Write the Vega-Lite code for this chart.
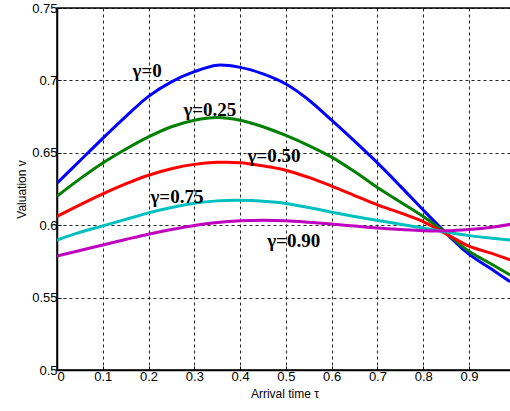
{
  "$schema": "https://vega.github.io/schema/vega-lite/v6.json",
  "width": 455,
  "height": 362,
  "autosize": {"type": "none"},
  "padding": {"left": 57, "top": 8, "right": 0, "bottom": 41},
  "background": "white",
  "config": {
    "view": {"stroke": "black", "strokeWidth": 1.5},
    "axis": {
      "domain": true,
      "domainColor": "black",
      "domainWidth": 1.5,
      "grid": true,
      "gridColor": "black",
      "gridDash": [3, 3],
      "gridOpacity": 0.85,
      "gridWidth": 1,
      "ticks": true,
      "tickColor": "black",
      "tickSize": -4,
      "labelFont": "Liberation Sans",
      "labelFontSize": 13,
      "labelColor": "black",
      "titleFont": "Liberation Sans",
      "titleFontSize": 12,
      "titleFontWeight": "normal",
      "titleColor": "black"
    }
  },
  "datasets": {
    "curves": [
      {"tau": 0, "v": 0.629, "g": "γ=0"}, {"tau": 0.05, "v": 0.6445, "g": "γ=0"}, {"tau": 0.1, "v": 0.66, "g": "γ=0"}, {"tau": 0.15, "v": 0.675, "g": "γ=0"}, {"tau": 0.2, "v": 0.689, "g": "γ=0"}, {"tau": 0.25, "v": 0.699, "g": "γ=0"}, {"tau": 0.3, "v": 0.706, "g": "γ=0"}, {"tau": 0.35, "v": 0.7105, "g": "γ=0"}, {"tau": 0.4, "v": 0.709, "g": "γ=0"}, {"tau": 0.45, "v": 0.7045, "g": "γ=0"}, {"tau": 0.5, "v": 0.6975, "g": "γ=0"}, {"tau": 0.55, "v": 0.6865, "g": "γ=0"}, {"tau": 0.6, "v": 0.6725, "g": "γ=0"}, {"tau": 0.65, "v": 0.658, "g": "γ=0"}, {"tau": 0.7, "v": 0.643, "g": "γ=0"}, {"tau": 0.75, "v": 0.627, "g": "γ=0"}, {"tau": 0.8, "v": 0.6105, "g": "γ=0"}, {"tau": 0.85, "v": 0.5945, "g": "γ=0"}, {"tau": 0.9, "v": 0.58, "g": "γ=0"}, {"tau": 0.95, "v": 0.5695, "g": "γ=0"}, {"tau": 0.99, "v": 0.561, "g": "γ=0"},
      {"tau": 0, "v": 0.62, "g": "γ=0.25"}, {"tau": 0.05, "v": 0.632, "g": "γ=0.25"}, {"tau": 0.1, "v": 0.643, "g": "γ=0.25"}, {"tau": 0.15, "v": 0.6525, "g": "γ=0.25"}, {"tau": 0.2, "v": 0.661, "g": "γ=0.25"}, {"tau": 0.25, "v": 0.668, "g": "γ=0.25"}, {"tau": 0.3, "v": 0.6725, "g": "γ=0.25"}, {"tau": 0.35, "v": 0.6743, "g": "γ=0.25"}, {"tau": 0.4, "v": 0.6725, "g": "γ=0.25"}, {"tau": 0.45, "v": 0.668, "g": "γ=0.25"}, {"tau": 0.5, "v": 0.662, "g": "γ=0.25"}, {"tau": 0.55, "v": 0.655, "g": "γ=0.25"}, {"tau": 0.6, "v": 0.647, "g": "γ=0.25"}, {"tau": 0.65, "v": 0.637, "g": "γ=0.25"}, {"tau": 0.7, "v": 0.626, "g": "γ=0.25"}, {"tau": 0.75, "v": 0.616, "g": "γ=0.25"}, {"tau": 0.8, "v": 0.606, "g": "γ=0.25"}, {"tau": 0.85, "v": 0.5945, "g": "γ=0.25"}, {"tau": 0.9, "v": 0.582, "g": "γ=0.25"}, {"tau": 0.95, "v": 0.573, "g": "γ=0.25"}, {"tau": 0.99, "v": 0.5656, "g": "γ=0.25"},
      {"tau": 0, "v": 0.606, "g": "γ=0.50"}, {"tau": 0.05, "v": 0.614, "g": "γ=0.50"}, {"tau": 0.1, "v": 0.6216, "g": "γ=0.50"}, {"tau": 0.15, "v": 0.6285, "g": "γ=0.50"}, {"tau": 0.2, "v": 0.6345, "g": "γ=0.50"}, {"tau": 0.25, "v": 0.639, "g": "γ=0.50"}, {"tau": 0.3, "v": 0.642, "g": "γ=0.50"}, {"tau": 0.35, "v": 0.6434, "g": "γ=0.50"}, {"tau": 0.4, "v": 0.6432, "g": "γ=0.50"}, {"tau": 0.45, "v": 0.641, "g": "γ=0.50"}, {"tau": 0.5, "v": 0.638, "g": "γ=0.50"}, {"tau": 0.55, "v": 0.633, "g": "γ=0.50"}, {"tau": 0.6, "v": 0.627, "g": "γ=0.50"}, {"tau": 0.65, "v": 0.6205, "g": "γ=0.50"}, {"tau": 0.7, "v": 0.614, "g": "γ=0.50"}, {"tau": 0.75, "v": 0.6085, "g": "γ=0.50"}, {"tau": 0.8, "v": 0.6025, "g": "γ=0.50"}, {"tau": 0.85, "v": 0.594, "g": "γ=0.50"}, {"tau": 0.9, "v": 0.5855, "g": "γ=0.50"}, {"tau": 0.95, "v": 0.5805, "g": "γ=0.50"}, {"tau": 0.99, "v": 0.576, "g": "γ=0.50"},
      {"tau": 0, "v": 0.5898, "g": "γ=0.75"}, {"tau": 0.05, "v": 0.595, "g": "γ=0.75"}, {"tau": 0.1, "v": 0.5995, "g": "γ=0.75"}, {"tau": 0.15, "v": 0.604, "g": "γ=0.75"}, {"tau": 0.2, "v": 0.6085, "g": "γ=0.75"}, {"tau": 0.25, "v": 0.6122, "g": "γ=0.75"}, {"tau": 0.3, "v": 0.6152, "g": "γ=0.75"}, {"tau": 0.35, "v": 0.6168, "g": "γ=0.75"}, {"tau": 0.4, "v": 0.6172, "g": "γ=0.75"}, {"tau": 0.45, "v": 0.6165, "g": "γ=0.75"}, {"tau": 0.5, "v": 0.615, "g": "γ=0.75"}, {"tau": 0.55, "v": 0.6122, "g": "γ=0.75"}, {"tau": 0.6, "v": 0.609, "g": "γ=0.75"}, {"tau": 0.65, "v": 0.606, "g": "γ=0.75"}, {"tau": 0.7, "v": 0.6033, "g": "γ=0.75"}, {"tau": 0.75, "v": 0.6007, "g": "γ=0.75"}, {"tau": 0.8, "v": 0.598, "g": "γ=0.75"}, {"tau": 0.85, "v": 0.5953, "g": "γ=0.75"}, {"tau": 0.9, "v": 0.5928, "g": "γ=0.75"}, {"tau": 0.95, "v": 0.591, "g": "γ=0.75"}, {"tau": 0.99, "v": 0.5898, "g": "γ=0.75"},
      {"tau": 0, "v": 0.5787, "g": "γ=0.90"}, {"tau": 0.05, "v": 0.5825, "g": "γ=0.90"}, {"tau": 0.1, "v": 0.5863, "g": "γ=0.90"}, {"tau": 0.15, "v": 0.5901, "g": "γ=0.90"}, {"tau": 0.2, "v": 0.5938, "g": "γ=0.90"}, {"tau": 0.25, "v": 0.597, "g": "γ=0.90"}, {"tau": 0.3, "v": 0.5998, "g": "γ=0.90"}, {"tau": 0.35, "v": 0.6018, "g": "γ=0.90"}, {"tau": 0.4, "v": 0.603, "g": "γ=0.90"}, {"tau": 0.45, "v": 0.6034, "g": "γ=0.90"}, {"tau": 0.5, "v": 0.603, "g": "γ=0.90"}, {"tau": 0.55, "v": 0.602, "g": "γ=0.90"}, {"tau": 0.6, "v": 0.6008, "g": "γ=0.90"}, {"tau": 0.65, "v": 0.5994, "g": "γ=0.90"}, {"tau": 0.7, "v": 0.598, "g": "γ=0.90"}, {"tau": 0.75, "v": 0.597, "g": "γ=0.90"}, {"tau": 0.8, "v": 0.5962, "g": "γ=0.90"}, {"tau": 0.85, "v": 0.5961, "g": "γ=0.90"}, {"tau": 0.9, "v": 0.597, "g": "γ=0.90"}, {"tau": 0.95, "v": 0.5986, "g": "γ=0.90"}, {"tau": 0.99, "v": 0.6006, "g": "γ=0.90"}
    ],
    "labels": [
      {"tau": 0.197, "v": 0.7065, "g": "γ=0"},
      {"tau": 0.334, "v": 0.6796, "g": "γ=0.25"},
      {"tau": 0.474, "v": 0.6478, "g": "γ=0.50"},
      {"tau": 0.262, "v": 0.6198, "g": "γ=0.75"},
      {"tau": 0.517, "v": 0.5891, "g": "γ=0.90"}
    ]
  },
  "layer": [
    {
      "data": {"name": "curves"},
      "mark": {"type": "line", "strokeWidth": 3, "interpolate": "catmull-rom", "clip": true},
      "encoding": {
        "x": {
          "field": "tau", "type": "quantitative",
          "scale": {"domain": [0, 0.994], "nice": false, "zero": false},
          "axis": {"values": [0, 0.1, 0.2, 0.3, 0.4, 0.5, 0.6, 0.7, 0.8, 0.9], "format": ".1~f", "title": "Arrival time τ", "labelPadding": 4, "titlePadding": 5}
        },
        "y": {
          "field": "v", "type": "quantitative",
          "scale": {"domain": [0.5, 0.75], "nice": false, "zero": false},
          "axis": {"values": [0.5, 0.55, 0.6, 0.65, 0.7, 0.75], "format": ".2~f", "title": "Valuation v", "labelPadding": 4, "titlePadding": 3}
        },
        "color": {
          "field": "g", "type": "nominal",
          "scale": {"domain": ["γ=0", "γ=0.25", "γ=0.50", "γ=0.75", "γ=0.90"], "range": ["#0000FF", "#008000", "#FF0000", "#00BFBF", "#BF00BF"]},
          "legend": null
        }
      }
    },
    {
      "data": {"name": "labels"},
      "mark": {"type": "text", "font": "Liberation Serif", "fontWeight": "bold", "fontSize": 19, "color": "black", "align": "center", "baseline": "middle"},
      "encoding": {
        "x": {"field": "tau", "type": "quantitative"},
        "y": {"field": "v", "type": "quantitative"},
        "text": {"field": "g"}
      }
    }
  ]
}
